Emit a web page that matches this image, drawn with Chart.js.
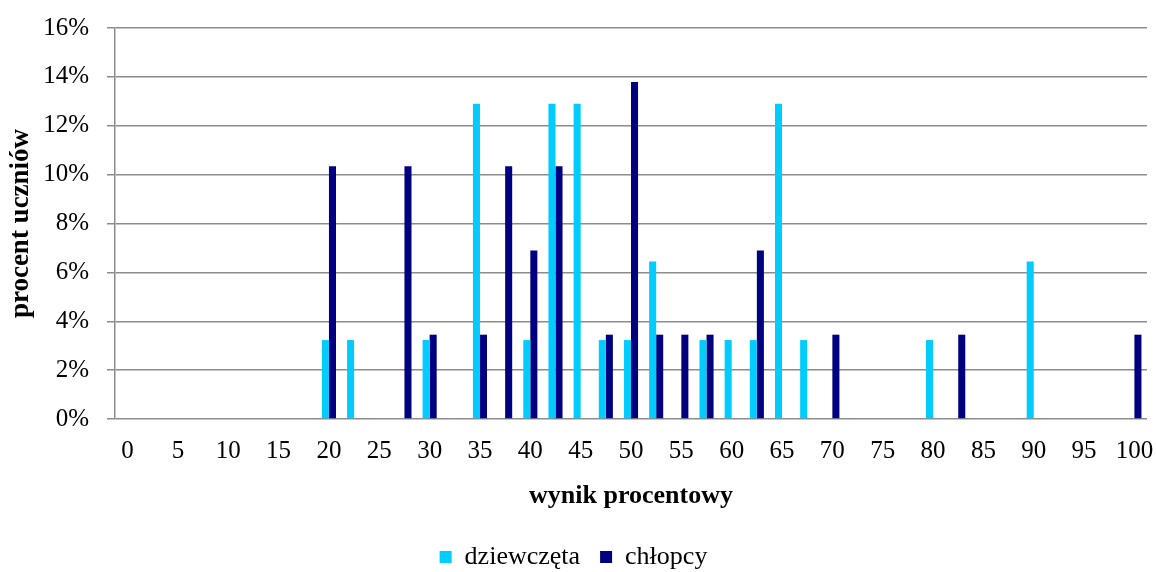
<!DOCTYPE html>
<html>
<head>
<meta charset="utf-8">
<script src="https://cdn.jsdelivr.net/npm/chart.js@4"></script>
<style>
    body { margin: 0; background: #fff; }
    #wrap { width: 1156px; height: 572px; }
</style>
</head>
<body>
<div id="wrap"><canvas id="resultsChart"></canvas></div>
<script>
// wynik procentowy (co 2,5 pkt)
const categories = [0, 2.5, 5, 7.5, 10, 12.5, 15, 17.5, 20, 22.5, 25, 27.5, 30, 32.5, 35, 37.5, 40,
    42.5, 45, 47.5, 50, 52.5, 55, 57.5, 60, 62.5, 65, 67.5, 70, 72.5, 75, 77.5, 80, 82.5, 85, 87.5,
    90, 92.5, 95, 97.5, 100];

// procent uczniów
const girls = [0, 0, 0, 0, 0, 0, 0, 0, 3.23, 3.23, 0, 0, 3.23, 0, 12.9, 0, 3.23,
    12.9, 12.9, 3.23, 3.23, 6.45, 0, 3.23, 3.23, 3.23, 12.9, 3.23, 0, 0, 0, 0, 3.23, 0, 0, 0,
    6.45, 0, 0, 0, 0];
const boys = [0, 0, 0, 0, 0, 0, 0, 0, 10.34, 0, 0, 10.34, 3.45, 0, 3.45, 10.34, 6.9,
    10.34, 0, 3.45, 13.79, 3.45, 3.45, 3.45, 0, 6.9, 0, 0, 3.45, 0, 0, 0, 0, 3.45, 0, 0,
    0, 0, 0, 0, 3.45];

const yTicks = [0, 2, 4, 6, 8, 10, 12, 14, 16];

const serif = '"Liberation Serif", "Times New Roman", serif';
const gridColor = '#8c8c8c';

const ctx = document.getElementById('resultsChart').getContext('2d');
const resultsChart = new Chart(ctx, {
    type: 'bar',
    data: {
        labels: categories,
        datasets: [{
            label: 'dziewczęta',
            data: girls,
            backgroundColor: '#00ccff',
            categoryPercentage: 0.56,
            barPercentage: 1.0
        }, {
            label: 'chłopcy',
            data: boys,
            backgroundColor: '#000080',
            categoryPercentage: 0.56,
            barPercentage: 1.0
        }]
    },
    options: {
        responsive: true,
        maintainAspectRatio: false,
        animation: false,
        layout: {
            padding: { top: 28, right: 9, bottom: -8, left: 0 }
        },
        plugins: {
            legend: {
                position: 'bottom',
                labels: {
                    font: { family: serif, size: 26 },
                    color: '#000',
                    boxWidth: 12,
                    boxHeight: 12,
                    padding: 20
                }
            },
            tooltip: { enabled: false }
        },
        scales: {
            x: {
                grid: { display: false, drawTicks: false },
                border: { display: false },
                afterFit: function (scale) {
                    scale.height = 105;
                    scale.paddingLeft = 0;
                    scale.paddingRight = 0;
                },
                ticks: {
                    autoSkip: false,
                    maxRotation: 0,
                    padding: 17,
                    color: '#000',
                    font: { family: serif, size: 25 },
                    callback: function (value, index) {
                        const v = categories[index];
                        return v % 5 === 0 ? String(v) : '';
                    }
                },
                title: {
                    display: true,
                    text: 'wynik procentowy',
                    color: '#000',
                    font: { family: serif, size: 26, weight: 'bold' },
                    padding: { top: 0, bottom: 12 }
                }
            },
            y: {
                min: 0,
                max: 16,
                afterBuildTicks: function (scale) {
                    scale.ticks = yTicks.map(v => ({ value: v }));
                },
                afterFit: function (scale) {
                    scale.width = 115;
                    scale.paddingTop = 0;
                    scale.paddingBottom = 0;
                },
                grid: {
                    color: gridColor,
                    lineWidth: 1.5,
                    drawTicks: true,
                    tickLength: 8
                },
                border: { display: true, color: gridColor, width: 1.5 },
                ticks: {
                    padding: 18,
                    color: '#000',
                    font: { family: serif, size: 25 },
                    callback: value => value + '%'
                },
                title: {
                    display: true,
                    text: 'procent uczniów',
                    color: '#000',
                    font: { family: serif, size: 27, weight: 'bold' },
                    padding: { top: 5, bottom: 0 }
                }
            }
        }
    }
});
</script>
</body>
</html>
